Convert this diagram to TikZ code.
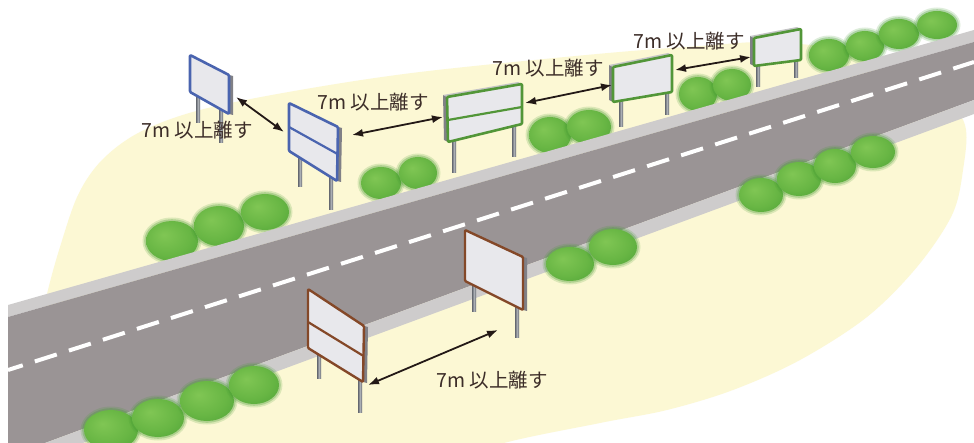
\documentclass[tikz,border=0pt]{standalone}
\usepackage{fontspec}
\newfontfamily\jpfont{Noto Sans CJK JP}
\usetikzlibrary{arrows.meta,shadings}

\definecolor{yellowbg}{RGB}{252,248,212}
\definecolor{roadgray}{RGB}{154,148,149}
\definecolor{curbgray}{RGB}{206,204,204}
\definecolor{bushlt}{RGB}{128,198,84}
\definecolor{bushmd}{RGB}{104,182,68}
\definecolor{bushdk}{RGB}{70,156,50}
\definecolor{blueframe}{RGB}{74,100,175}
\definecolor{greenframe}{RGB}{82,150,56}
\definecolor{brownframe}{RGB}{132,72,40}
\definecolor{panelfill}{RGB}{232,232,236}
\definecolor{sidedk}{RGB}{128,128,134}
\definecolor{sidelt}{RGB}{196,196,198}
\definecolor{postdk}{RGB}{100,104,112}
\definecolor{postlt}{RGB}{170,174,180}
\definecolor{arrowcol}{RGB}{35,25,22}
\definecolor{labelcol}{RGB}{60,45,40}

% shrub body: light centre shifted up-left, darker rim
\pgfdeclareradialshading{bushfill}{\pgfpoint{-8bp}{8bp}}{color(0bp)=(bushlt); color(22bp)=(bushmd); color(46bp)=(bushdk); color(50bp)=(bushdk)}

\tikzset{
  bush/.style={shading=bushfill},
  bushhalo/.style={fill=bushdk, opacity=#1},
  post/.style={left color=postdk, right color=postdk, middle color=postlt},
  panelblue/.style={draw=blueframe, fill=panelfill, line width=2.6, line join=round, rounded corners=1},
  panelgreen/.style={draw=greenframe, fill=panelfill, line width=2.6, line join=round, rounded corners=1},
  panelbrown/.style={draw=brownframe, fill=panelfill, line width=2.4, line join=round, rounded corners=1},
  divider/.style={line width=2.2},
  gap/.style={draw=arrowcol, line width=1.8, {Latex[length=11pt,width=8pt]}-{Latex[length=11pt,width=8pt]}},
  dist/.style={font=\jpfont\fontsize{19.5}{22}\selectfont, text=labelcol, inner sep=0pt},
}
% a shrub with a soft rim made of fading outer layers
\newcommand\shrubat[4]{%
  \fill[bushhalo=0.18] (#1,#2) ellipse [x radius=#3+3.5, y radius=#4+3.5];
  \fill[bushhalo=0.3] (#1,#2) ellipse [x radius=#3+1.8, y radius=#4+1.8];
  \shade[bush] (#1,#2) ellipse [x radius=#3, y radius=#4];}

\begin{document}
\begin{tikzpicture}[x=1pt,y=-1pt]
\useasboundingbox (0,0) rectangle (974,443);
\fill[white] (0,0) rectangle (974,443);

% pale ground
\fill[yellowbg] plot[smooth cycle, tension=0.55] coordinates {
  (40,330) (48,290) (60,247) (78,195) (102,160) (140,132) (200,110) (300,90)
  (420,72) (597,54) (700,46) (770,42) (840,50) (880,70) (940,95) (965,125)
  (963,170) (952,215) (917,267) (867,317) (800,360) (733,390) (667,410)
  (600,423) (497,445) (450,470) (100,470) (30,440)};

% shrubs behind the far verge
\foreach \cx/\cy/\rx/\ry in {
  172/241/26/20, 219/226/25/20, 265/212/24/18,
  381/183/20/16, 418/173/19/16,
  550/135/21/18, 589/127/22/17,
  698/94/19/17, 732/85/19/16,
  829/55/20/16, 865/46/19/15, 899/34/20/15, 937/25/20/14}
  {\shrubat{\cx}{\cy}{\rx}{\ry}}

% far-side signs
% sign A
\shade[post] (196,85) rectangle (200,123);
\shade[post] (219,105) rectangle (223,143);
\fill[sidedk] (229,75) -- (233,76) -- (233,115) -- (229,114) -- cycle;
\draw[panelblue] (190,55) -- (229,75) -- (229,114) -- (190,92) -- cycle;
% sign B
\shade[post] (298,145) rectangle (302,187);
\shade[post] (329,170) rectangle (333,210);
\fill[sidedk] (338,127) -- (342,128) -- (341,182) -- (337,181) -- cycle;
\draw[panelblue] (289,103) -- (338,127) -- (337,181) -- (289,151) -- cycle;
\draw[divider, blueframe] (289,127) -- (337.5,154);
% sign C
\shade[post] (452,135) rectangle (456,173);
\shade[post] (512,120) rectangle (516,157);
\fill[sidedk] (447,97) -- (443,95) -- (444,140) -- (448,142) -- cycle;
\fill[sidelt] (447,97) -- (443,95) -- (518,82) -- (522,84) -- cycle;
\draw[panelgreen] (447,97) -- (522,84) -- (522,124) -- (448,142) -- cycle;
\draw[divider, greenframe] (448,120) -- (522,107);
% sign D
\shade[post] (619,97) rectangle (623,127);
\shade[post] (665,87) rectangle (669,115);
\fill[sidedk] (613,67) -- (609,65) -- (609,100) -- (613,102) -- cycle;
\fill[sidelt] (613,67) -- (609,65) -- (668,53) -- (672,55) -- cycle;
\draw[panelgreen] (613,67) -- (672,55) -- (672,92) -- (613,102) -- cycle;
% sign E
\shade[post] (756,62) rectangle (760,87);
\shade[post] (794,55) rectangle (798,78);
\fill[sidedk] (754,38) -- (750,36) -- (750,64) -- (754,66) -- cycle;
\fill[sidelt] (754,38) -- (750,36) -- (797,27) -- (801,29) -- cycle;
\draw[panelgreen] (754,38) -- (801,29) -- (801,60) -- (754,66) -- cycle;

% road
\fill[curbgray] (8,305) -- (974,30) -- (974,42) -- (8,317) -- cycle;
\fill[roadgray] (8,317) -- (974,42) -- (974,100) -- (45,443) -- (8,443) -- cycle;
\fill[curbgray] (45,443) -- (974,100) -- (974,114) -- (83,443) -- cycle;
\coordinate (cl0) at (8,370);
\coordinate (cl1) at (974,62);
\draw[white, line width=4, dash pattern=on 23 off 12.7, dash phase=7.5] (cl0) -- (cl1);

% shrubs on the near verge
\foreach \cx/\cy/\rx/\ry in {
  761/195/22/17, 799/179/22/17, 835/166/21/17, 873/152/22/16,
  570/264/24/17, 613/247/24/18,
  111/430/27/20, 158/418/26/19, 207/401/27/20, 254/385/25/19}
  {\shrubat{\cx}{\cy}{\rx}{\ry}}

% near-side signs
% sign F
\shade[post] (317,342) rectangle (321,378);
\shade[post] (358,376) rectangle (362,412);
\fill[sidedk] (364,326) -- (368,327) -- (367,383) -- (363,382) -- cycle;
\draw[panelbrown] (308,289) -- (364,326) -- (363,382) -- (308,348) -- cycle;
\draw[divider, brownframe] (308,322) -- (363.5,356);
% sign G
\shade[post] (472,276) rectangle (476,312);
\shade[post] (515,305) rectangle (519,338);
\fill[sidedk] (523,257) -- (527,258) -- (527,311) -- (523,310) -- cycle;
\draw[panelbrown] (465,230) -- (523,257) -- (523,310) -- (465,281) -- cycle;

% spacing arrows
\coordinate (a1s) at (236,97);  \coordinate (a1e) at (284,132);
\coordinate (a2s) at (352,135); \coordinate (a2e) at (443,117);
\coordinate (a3s) at (525,103); \coordinate (a3e) at (612,85);
\coordinate (a4s) at (675,70);  \coordinate (a4e) at (751,57);
\coordinate (a5s) at (368,385); \coordinate (a5e) at (498,330);
\draw[gap] (a1s) -- (a1e);
\draw[gap] (a2s) -- (a2e);
\draw[gap] (a3s) -- (a3e);
\draw[gap] (a4s) -- (a4e);
\draw[gap] (a5s) -- (a5e);

% distance labels
\node[dist] (lab1) at (197,130) {7m 以上離す};
\node[dist] (lab2) at (373,102) {7m 以上離す};
\node[dist] (lab3) at (548,68)  {7m 以上離す};
\node[dist] (lab4) at (689,41)  {7m 以上離す};
\node[dist] (lab5) at (492,380) {7m 以上離す};
\end{tikzpicture}
\end{document}
